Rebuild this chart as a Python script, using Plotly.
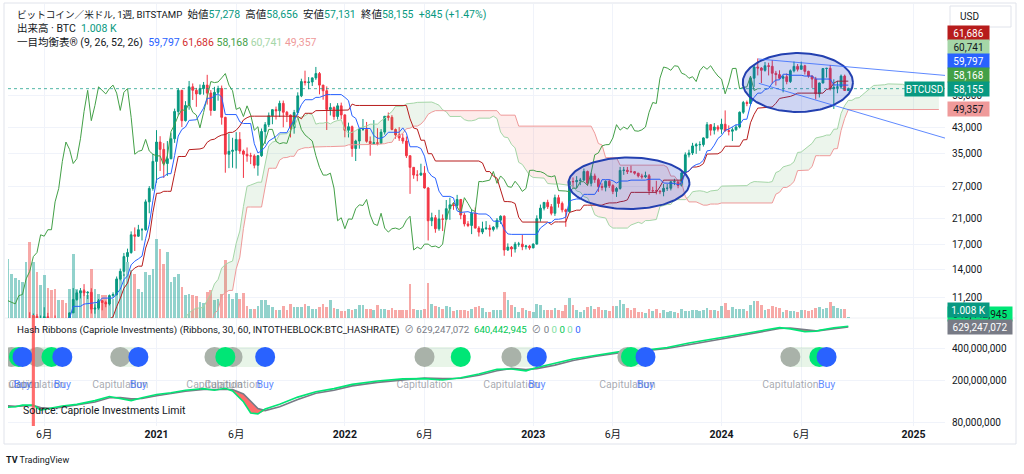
import numpy as np
import pandas as pd
import plotly.graph_objects as go

# ---------------------------------------------------------------- data
LAST_BAR = "2024-09-02"          # weekly bars (Monday open), Bitstamp BTC/USD
first_open = 9630
last_open = 57278

close = [
    # 2019 (from Sep 2)
    10400, 10300, 10000, 8250, 7880, 8300, 8230, 9550, 9200, 8800, 8500, 6900, 7450, 7500, 7100, 7350, 7250, 7750,
    # 2020
    8200, 8700, 8600, 9350, 10000, 9900, 9650, 8550, 8030, 5380, 5830, 5880, 6780, 6900, 7120, 7690, 8900,
    8720, 9680, 8900, 9450, 9650, 9350, 9300, 9000, 9280, 9250, 9180, 9950, 11050, 11650, 11850, 11650, 11700,
    10250, 10330, 10950, 10800, 10680, 11400, 11500, 13000, 13800, 15500, 16000, 18400, 18200, 19150, 19150,
    23850, 26500, 32800,
    # 2021
    38200, 36050, 32250, 33500, 39200, 48600, 57400, 45200, 50950, 59000, 57400, 55800, 58200, 59800, 56150,
    49000, 56500, 58200, 46400, 34700, 35500, 35800, 39000, 35600, 34700, 34250, 34250, 31800, 34300, 41500,
    43800, 47000, 49300, 48850, 51800, 48300, 47250, 42700, 48200, 54950, 61500, 61000, 61300, 63300, 65500,
    59800, 57200, 49400, 50100, 46700, 50800, 47300,
    # 2022
    41900, 43100, 36300, 38500, 42200, 42200, 38400, 37700, 38000, 37800, 41300, 46800, 46400, 42150, 40400,
    39450, 38500, 34300, 31300, 29450, 29450, 29900, 26600, 20550, 21050, 19300, 20850, 20800, 22600, 23300,
    23180, 24300, 21500, 20050, 19800, 21800, 19400, 18800, 19300, 19400, 19200, 19550, 20650, 21300, 16330,
    16700, 16450, 17100, 17100, 16750, 16840, 16600,
    # 2023
    17100, 20900, 22700, 23750, 22950, 21800, 24650, 23550, 22400, 22100, 28000, 27950, 28200, 28300, 30300,
    27600, 29250, 28400, 26900, 26750, 28050, 27100, 25900, 26500, 30550, 30600, 30300, 30250, 29900, 29250,
    29050, 29300, 26050, 26050, 25970, 25840, 26550, 26550, 27950, 27950, 27150, 29950, 34550, 35050, 37050,
    37400, 37450, 39450, 43800, 41950, 43000, 42280,
    # 2024
    43950, 41750, 41600, 42050, 43000, 48300, 52150, 51750, 63150, 68950, 68400, 67200, 69650, 69350, 65650,
    64950, 63100, 63900, 61500, 66950, 69300, 67750, 69650, 66650, 64250, 62700, 55850, 60800, 68150, 68250,
    58100, 58750, 58950, 64200, 57310, 58155,
]
high = [
    # 2019
    10900, 10450, 10350, 10000, 8500, 8800, 8420, 10500, 9900, 9500, 9050, 8500, 7900, 7800, 7650, 7500, 7700, 7850,
    # 2020
    8500, 9200, 8750, 9600, 10150, 10500, 10250, 9950, 9200, 8200, 6900, 6950, 7300, 7450, 7300, 7700, 9450,
    10000, 9900, 9850, 9750, 10400, 9950, 9550, 9750, 9300, 9450, 9320, 9980, 12100, 11900, 12100, 12480, 11800,
    12080, 10650, 11100, 10990, 10950, 11500, 11700, 13250, 14100, 15950, 16500, 18900, 19500, 19900, 19400,
    24300, 27000, 34800,
    # 2021
    41950, 40000, 37850, 38500, 40950, 49700, 58300, 57600, 52700, 61800, 60600, 58500, 60100, 61300, 64850,
    57500, 59000, 59500, 59600, 46600, 40900, 39500, 41300, 41300, 36000, 36600, 35100, 34700, 34500, 42500,
    44700, 48200, 49400, 50500, 52900, 52950, 48800, 47400, 49200, 56500, 62900, 67000, 63700, 63500, 69000,
    66300, 59900, 59200, 51900, 50600, 51900, 52100,
    # 2022
    47500, 44500, 43500, 38900, 42300, 45800, 44750, 39900, 45400, 42600, 42300, 46900, 48200, 47200, 42500,
    42950, 40800, 39900, 34300, 31300, 30600, 32200, 31600, 26800, 21900, 21500, 22400, 21600, 24200, 24650,
    23650, 25200, 24400, 21900, 20500, 22500, 22800, 19700, 20400, 20500, 19900, 19700, 21000, 21450, 21450,
    17200, 16850, 17400, 17400, 18400, 17000, 17000,
    # 2023
    17200, 21450, 23350, 23800, 24250, 23450, 25250, 25200, 23900, 22600, 28400, 28900, 29200, 28800, 31000,
    30500, 30000, 29800, 28800, 27600, 28250, 28450, 27400, 26800, 31400, 31400, 31400, 31800, 30400, 29950,
    29750, 30250, 29700, 26850, 28150, 26100, 27450, 27450, 28000, 28600, 28000, 30400, 35200, 35950, 37950,
    37950, 38400, 39650, 44700, 44000, 44350, 43650,
    # 2024
    45900, 49000, 43550, 42850, 43850, 48600, 52800, 52950, 64000, 70100, 73794, 68900, 71700, 71300, 72750,
    66900, 67200, 64700, 65500, 67650, 71950, 70600, 71950, 70200, 66950, 64500, 63800, 61000, 68350, 68500,
    70017, 62600, 61800, 65000, 64950, 58656,
]
low = [
    # 2019
    9600, 9900, 9600, 7800, 7750, 7800, 7900, 7300, 8950, 8700, 8400, 6800, 6500, 7100, 7050, 6400, 7100, 6900,
    # 2020
    7600, 8100, 8250, 8550, 9150, 9700, 9300, 8450, 7900, 3850, 4450, 5700, 5850, 6750, 6500, 6800, 7650,
    8600, 8200, 8800, 8650, 9300, 8950, 9200, 8850, 8950, 9100, 9050, 9150, 9950, 10950, 11150, 11350, 11100,
    9900, 9880, 10200, 10150, 10400, 10550, 11200, 11400, 12850, 13300, 14850, 15850, 16200, 18100, 17600,
    19000, 21800, 26050,
    # 2021
    27700, 30400, 28800, 29250, 33350, 37950, 47050, 43000, 44900, 49250, 53200, 50400, 55450, 55450, 51300,
    47000, 48800, 52900, 43800, 30000, 31100, 31200, 31000, 34800, 28800, 32700, 32100, 31050, 29300, 34000,
    37600, 43000, 43950, 45600, 46500, 42900, 44700, 39600, 40800, 47150, 54400, 59600, 57900, 59400, 62300,
    55600, 53300, 42000, 47100, 45500, 45600, 45700,
    # 2022
    39650, 39600, 34000, 32900, 36250, 41700, 38000, 34300, 37450, 37200, 37600, 40500, 45200, 41900, 39200,
    38550, 37700, 33700, 25400, 28600, 28050, 29300, 26500, 17600, 19700, 18700, 19000, 18950, 20750, 20700,
    22400, 22650, 20800, 19650, 19550, 18500, 19350, 18150, 18500, 19150, 18150, 18900, 19200, 20050, 15600,
    16200, 15480, 16000, 16750, 16300, 16400, 16350,
    # 2023
    16550, 17050, 20400, 22300, 22550, 21450, 21350, 22800, 21950, 19600, 21900, 26600, 26550, 27200, 28200,
    27100, 26950, 27700, 25800, 26100, 25900, 26600, 25350, 24800, 26250, 29500, 29700, 29950, 29550, 28900,
    28600, 28750, 25200, 25750, 25300, 25350, 24920, 26000, 26100, 27200, 26550, 26900, 29850, 33850, 34500,
    34800, 35650, 36850, 39400, 40200, 40550, 41500,
    # 2024
    40750, 41500, 40250, 38500, 41800, 42550, 47700, 50650, 50900, 59000, 64550, 60800, 66500, 64550, 60600,
    59600, 62800, 56500, 60200, 60800, 66100, 66600, 67500, 65000, 63400, 58500, 53500, 54250, 60650, 63450,
    57350, 49577, 56100, 58000, 57200, 57131,
]
# weekly volume, thousand BTC
volume = [
    45, 40, 38, 70, 45, 42, 38, 60, 45, 40, 38, 55, 42, 38, 36, 40, 35, 33, 30, 40, 45, 35, 42, 48, 45, 42, 55, 50, 90,
    59, 44, 40, 38, 36, 56, 76, 56, 46, 33, 43, 30, 28, 29, 18, 18, 15, 29, 64, 29, 26, 29, 23, 49, 29, 24, 23, 23,
    19, 19, 38, 43, 44, 56, 48, 44, 29, 26, 46, 43, 49, 79, 69, 54, 66, 36, 41, 44, 31, 23, 24, 23, 22, 16, 15, 26,
    28, 18, 19,
    24, 58, 24, 19, 25, 19, 25, 12, 9, 9, 12, 18, 18, 13, 11, 8, 8, 12, 8, 14, 11, 11, 11, 14, 12, 9, 9, 11, 14, 11,
    18, 10, 9, 7, 7, 9, 8, 9, 13, 13, 9, 9, 8, 13, 9, 9, 8, 10, 8, 8, 8, 8, 34, 9, 8, 8, 9, 35,
    14, 12, 11, 9, 12, 11, 7, 8, 8, 8, 7, 9, 11, 12, 10, 6, 6, 8, 8, 8, 26, 18, 13, 11, 6, 10, 8, 7, 6, 14,
    13, 8, 8, 8, 10, 8, 7, 13, 20, 13, 8, 6, 8, 11, 12, 9, 11, 8, 8, 7, 12, 12, 18, 14, 10, 8, 10,
    6, 6, 5, 9, 7, 9, 5, 8, 6, 7, 6, 5, 9, 7, 7, 8, 8, 7, 8, 10, 8, 8, 7, 12, 15, 8, 11, 9, 9, 9,
    7, 13, 17, 17, 13, 8, 9, 12, 11, 10, 6, 8, 7, 7, 6, 8, 8, 7, 8, 10, 11, 9, 10, 16, 12, 10, 9, 9, 1.008,
]

# Hash Ribbons: 30d (fast) / 60d (slow) hash-rate averages, EH/s
hr_dates = ["2020-03-02", "2020-03-23", "2020-04-06", "2020-04-20", "2020-05-11", "2020-05-25", "2020-06-15",
            "2020-07-06", "2020-08-03", "2020-09-07", "2020-10-05", "2020-10-26", "2020-11-16", "2020-12-07",
            "2021-01-04", "2021-02-01", "2021-03-01", "2021-04-05", "2021-04-26", "2021-05-17", "2021-05-31",
            "2021-06-21", "2021-07-05", "2021-07-19", "2021-08-02", "2021-08-30", "2021-10-04", "2021-11-08",
            "2021-12-13", "2022-01-17", "2022-03-07", "2022-04-25", "2022-06-06", "2022-07-11", "2022-08-15",
            "2022-09-19", "2022-10-24", "2022-11-21", "2022-12-19", "2023-01-09", "2023-02-13", "2023-03-20",
            "2023-05-01", "2023-06-19", "2023-07-03", "2023-07-10", "2023-08-07", "2023-09-18", "2023-10-30",
            "2023-12-11", "2024-01-15", "2024-02-19", "2024-03-25", "2024-04-22", "2024-05-13", "2024-06-10",
            "2024-07-01", "2024-07-08", "2024-08-05", "2024-09-02"]
hr_fast = [120, 111, 112, 116, 116, 104, 109, 114, 118, 128, 140, 134, 128, 136,
           146, 152, 160, 166, 160, 167, 158, 125, 98, 96, 107, 118, 138, 155, 166,
           182, 196, 205, 206, 200, 210, 228, 252, 254, 244,
           262, 285, 315, 340, 370, 364, 368, 385, 405, 445, 480,
           510, 550, 590, 622, 605, 570, 575, 586, 620, 640.442945]
hr_slow = [116, 114, 113, 114, 115, 110, 108, 111, 116, 124, 136, 137, 133, 134,
           142, 149, 157, 163, 164, 165, 163, 148, 125, 108, 103, 112, 131, 150, 160,
           176, 190, 200, 209, 206, 208, 222, 244, 257, 251,
           256, 276, 305, 333, 362, 368, 367, 378, 396, 432, 468,
           500, 535, 575, 610, 617, 592, 580, 583, 605, 629.247072]

capitulation_dates = ["2020-03-30", "2020-05-18", "2020-10-26", "2021-04-26", "2021-05-31",
                      "2022-06-06", "2022-11-21", "2023-07-03", "2024-05-13"]
recovery_dates = ["2020-04-13", "2020-06-15", "2021-05-17", "2022-08-15", "2023-07-10", "2024-07-08"]
buy_dates = ["2020-04-20", "2020-07-06", "2020-11-30", "2021-08-02", "2023-01-09", "2023-08-07", "2024-07-22"]
signal_bands = [("2020-03-30", "2020-04-20"), ("2020-05-18", "2020-07-06"), ("2020-10-26", "2020-11-30"),
                ("2021-04-26", "2021-08-02"), ("2022-06-06", "2022-08-15"), ("2022-11-21", "2023-01-09"),
                ("2023-07-03", "2023-08-07"), ("2024-05-13", "2024-07-22")]
highlight_dates = ["2020-05-11"]

# values shown in the legends / price-scale labels
ichimoku_values = [59797, 61686, 58168, 60741, 49357]      # conversion, base, lagging, lead 1, lead 2
hash_values = [629247072, 640442945]                       # slow, fast
price_ticks = [11200, 14000, 17000, 21000, 27000, 35000, 43000, 55000]
hash_ticks = [80000000, 200000000, 400000000]
x_ticks = ["2020-06-01", "2021-01-04", "2021-06-07", "2022-01-03", "2022-06-06", "2023-01-02",
           "2023-06-05", "2024-01-01", "2024-06-03", "2025-01-06"]
x_ticktext = ["6月", "<b>2021</b>", "6月", "<b>2022</b>", "6月", "<b>2023</b>", "6月", "<b>2024</b>", "6月", "<b>2025</b>"]

# user drawings: ellipses (time, price) and trend lines
ellipses = [("2023-03-11", "2023-10-31", 33820, 22540), ("2024-02-11", "2024-09-11", 76960, 48390)]
trend_lines = [(("2024-03-12", 73470), ("2025-03-08", 64550)), (("2024-03-13", 60660), ("2025-03-08", 39400))]

# ---------------------------------------------------------------- style
FONT = "Roboto, 'Noto Sans CJK JP', 'DejaVu Sans', sans-serif"
TXT = "#131722"
UP, DN = "#089981", "#F23645"
VOL_UP, VOL_DN = "rgba(38,166,154,0.5)", "rgba(239,83,80,0.5)"
GRID = "#f0f3fa"
C_TENKAN, C_KIJUN, C_LAG, C_LEAD1, C_LEAD2 = "#2962FF", "#B71C1C", "#43A047", "#A5D6A7", "#EF9A9A"
CLOUD_UP, CLOUD_DN = "rgba(67,160,71,0.10)", "rgba(244,67,54,0.10)"

PLOT_L, PLOT_R, PLOT_T, PLOT_B, SPLIT = 8, 945, 4, 426, 318
PRICE_RANGE = [3.98032, 5.05409]
HASH_RANGE = [7.86828, 8.88428]
VOL_RANGE = [0, SPLIT - PLOT_T]
PX_PER_WEEK = 3.622
SIGNAL_LEVEL, LABEL_LEVEL = 3.3e8, 1.78e8

split_frac = (PLOT_B - SPLIT) / (PLOT_B - PLOT_T)


def py2paper(py):
    return (PLOT_B - py) / (PLOT_B - PLOT_T)


def px2paper(px):
    return (px - PLOT_L) / (PLOT_R - PLOT_L)


def price_px(v):
    return PLOT_T + (PRICE_RANGE[1] - np.log10(v)) / (PRICE_RANGE[1] - PRICE_RANGE[0]) * (SPLIT - PLOT_T)


def hash_px(v):
    return SPLIT + (HASH_RANGE[1] - np.log10(v)) / (HASH_RANGE[1] - HASH_RANGE[0]) * (PLOT_B - SPLIT)


def fmt(v):
    return f"{int(round(v)):,}"


# ---------------------------------------------------------------- derived series
n = len(close)
dates = pd.date_range(end=LAST_BAR, periods=n, freq="7D")
opens = [first_open] + close[:-1]
opens[-1] = last_open
high = [max(h, o, c) for h, o, c in zip(high, opens, close)]
low = [min(l, o, c) for l, o, c in zip(low, opens, close)]

H, L, C = pd.Series(high, dtype=float), pd.Series(low, dtype=float), pd.Series(close, dtype=float)


def donchian(k):
    return (H.rolling(k).max() + L.rolling(k).min()) / 2


tenkan = donchian(9)
kijun = donchian(26)
spanA = (tenkan + kijun) / 2
spanB = donchian(52)
disp = 26 - 1
all_dates = dates.append(pd.date_range(dates[-1] + pd.Timedelta(days=7), periods=disp, freq="7D"))
lead_x = all_dates[disp:disp + n]

x_start = pd.Timestamp("2020-03-23")
x_end = x_start + pd.Timedelta(days=(PLOT_R - PLOT_L) / PX_PER_WEEK * 7)

fig = go.Figure()

# volume (base axis, drawn beneath price)
vol_colors = [VOL_UP if c >= o else VOL_DN for o, c in zip(opens, close)]
fig.add_trace(go.Bar(x=dates, y=volume, marker=dict(color=vol_colors, line=dict(width=0)),
                     width=7 * 86400000 * 0.74, xaxis="x", yaxis="y", hoverinfo="skip"))

# cloud
valid = (spanA.notna() & spanB.notna()).values
lx = lead_x[valid]
A = spanA.values[valid]
B = spanB.values[valid]
for upper, col in ((np.maximum(A, B), CLOUD_UP), (np.minimum(A, B), CLOUD_DN)):
    fig.add_trace(go.Scatter(x=lx, y=B, mode="lines", line=dict(width=0, color="rgba(0,0,0,0)"),
                             yaxis="y2", hoverinfo="skip"))
    fig.add_trace(go.Scatter(x=lx, y=upper, mode="lines", line=dict(width=0, color="rgba(0,0,0,0)"),
                             fill="tonexty", fillcolor=col, yaxis="y2", hoverinfo="skip"))
fig.add_trace(go.Scatter(x=lead_x, y=spanA, mode="lines", line=dict(color=C_LEAD1, width=1), yaxis="y2"))
fig.add_trace(go.Scatter(x=lead_x, y=spanB, mode="lines", line=dict(color=C_LEAD2, width=1), yaxis="y2"))
# lagging span
fig.add_trace(go.Scatter(x=dates[:n - disp], y=C.values[disp:], mode="lines",
                         line=dict(color=C_LAG, width=1), yaxis="y2"))
# current price line
fig.add_trace(go.Scatter(x=[x_start, x_end], y=[close[-1], close[-1]], mode="lines",
                         line=dict(color="rgba(8,153,129,0.7)", width=1, dash="dot"), yaxis="y2"))

# candles
fig.add_trace(go.Candlestick(x=dates, open=opens, high=high, low=low, close=close, yaxis="y2",
                             increasing=dict(line=dict(color=UP, width=1), fillcolor=UP),
                             decreasing=dict(line=dict(color=DN, width=1), fillcolor=DN),
                             whiskerwidth=0, hoverinfo="skip"))
# conversion / base lines
fig.add_trace(go.Scatter(x=dates, y=kijun, mode="lines", line=dict(color=C_KIJUN, width=1), yaxis="y2"))
fig.add_trace(go.Scatter(x=dates, y=tenkan, mode="lines", line=dict(color=C_TENKAN, width=1), yaxis="y2"))

# drawings: ellipses and trend lines
for t0, t1, ptop, pbot in ellipses:
    t0, t1 = pd.Timestamp(t0), pd.Timestamp(t1)
    xc, rx = t0 + (t1 - t0) / 2, (t1 - t0) / 2
    lc = (np.log10(ptop) + np.log10(pbot)) / 2
    rl = (np.log10(ptop) - np.log10(pbot)) / 2
    th = np.linspace(0, 2 * np.pi, 181)
    fig.add_trace(go.Scatter(x=[xc + rx * np.cos(a) for a in th], y=10 ** (lc + rl * np.sin(th)),
                             mode="lines", fill="toself", fillcolor="rgba(33,66,200,0.22)",
                             line=dict(color="#2340b0", width=2), yaxis="y2", hoverinfo="skip"))
for (ta, pa), (tb, pb) in trend_lines:
    fig.add_trace(go.Scatter(x=[ta, tb], y=[pa, pb], mode="lines",
                             line=dict(color="rgba(41,98,255,0.75)", width=1), yaxis="y2"))

# ---------------------------------------------------------------- hash ribbons pane
hx = pd.to_datetime(hr_dates)
fast = np.array(hr_fast) * 1e6
slow = np.array(hr_slow) * 1e6
fig.add_trace(go.Scatter(x=hx, y=slow, mode="lines", line=dict(width=0, color="rgba(0,0,0,0)"), yaxis="y3"))
fig.add_trace(go.Scatter(x=hx, y=np.minimum(fast, slow), mode="lines", line=dict(width=0, color="rgba(0,0,0,0)"),
                         fill="tonexty", fillcolor="rgba(255,82,82,0.85)", yaxis="y3"))
fig.add_trace(go.Scatter(x=hx, y=slow, mode="lines", line=dict(color="#787B86", width=1.6), yaxis="y3"))
fig.add_trace(go.Scatter(x=hx, y=fast, mode="lines", line=dict(color="#00E676", width=1.6), yaxis="y3"))

for a, b in signal_bands:
    fig.add_trace(go.Scatter(x=[a, b], y=[SIGNAL_LEVEL, SIGNAL_LEVEL], mode="lines",
                             line=dict(color="rgba(76,175,80,0.13)", width=20), yaxis="y3"))
for ds, col in ((capitulation_dates, "#a9b2a9"), (recovery_dates, "#00E676"), (buy_dates, "#2962FF")):
    fig.add_trace(go.Scatter(x=ds, y=[SIGNAL_LEVEL] * len(ds), mode="markers",
                             marker=dict(size=20, color=col, line=dict(width=0)), yaxis="y3"))
fig.add_trace(go.Scatter(x=capitulation_dates, y=[LABEL_LEVEL] * len(capitulation_dates), mode="text",
                         text=["Capitulation"] * len(capitulation_dates),
                         textfont=dict(size=10.5, color="rgba(120,123,134,0.65)", family=FONT), yaxis="y3"))
fig.add_trace(go.Scatter(x=buy_dates, y=[LABEL_LEVEL] * len(buy_dates), mode="text",
                         text=["Buy"] * len(buy_dates),
                         textfont=dict(size=10.5, color="rgba(41,98,255,0.75)", family=FONT), yaxis="y3"))

# ---------------------------------------------------------------- shapes
shapes = []
for d in highlight_dates:
    d = pd.Timestamp(d)
    shapes.append(dict(type="rect", xref="x", yref="paper", x0=d - pd.Timedelta(days=3), x1=d + pd.Timedelta(days=3),
                       y0=0, y1=py2paper(315), fillcolor="rgba(255,82,82,0.85)", line=dict(width=0), layer="above"))
# frame, pane separator, currency button
shapes.append(dict(type="rect", xref="paper", yref="paper", x0=px2paper(4), x1=px2paper(1016),
                   y0=py2paper(444), y1=py2paper(3), line=dict(color="#e0e3eb", width=1), layer="below"))
shapes.append(dict(type="line", xref="paper", yref="paper", x0=px2paper(4), x1=px2paper(1016),
                   y0=py2paper(SPLIT), y1=py2paper(SPLIT), line=dict(color="#eef0f4", width=1), layer="below"))
shapes.append(dict(type="rect", xref="paper", yref="paper", x0=px2paper(950), x1=px2paper(1011),
                   y0=py2paper(27), y1=py2paper(6), line=dict(color="#e0e3eb", width=1), fillcolor="white",
                   layer="above"))

# ---------------------------------------------------------------- annotations
ann = []


def span(t, c, size=None):
    st = f"color:{c}" + (f";font-size:{size}px" if size else "")
    return f"<span style='{st}'>{t}</span>"


G = "\u00a0\u00a0"
chg = close[-1] - close[-2]
pct = chg / close[-2] * 100
line1 = (span("ビットコイン／米ドル, 1週, BITSTAMP", TXT, 9.6) + G +
         "始値" + span(fmt(opens[-1]), UP) + G + "高値" + span(fmt(high[-1]), UP) + G +
         "安値" + span(fmt(low[-1]), UP) + G + "終値" + span(fmt(close[-1]), UP) + G +
         span(f"+{fmt(chg)} (+{pct:.2f}%)", UP))
line2 = "出来高 · BTC" + G + span(f"{volume[-1]:.3f} K", UP)
ich_cols = [C_TENKAN, "#d32f2f", C_LAG, C_LEAD1, C_LEAD2]
line3 = "一目均衡表® (9, 26, 52, 26)" + G + "\u00a0".join(span(fmt(v), c) for v, c in zip(ichimoku_values, ich_cols))
for i, t in enumerate((line1, line2, line3)):
    ann.append(dict(xref="paper", yref="paper", x=px2paper(15), y=py2paper(15 + 13.5 * i), xanchor="left",
                    yanchor="middle", text=t, showarrow=False, font=dict(size=10.5, color=TXT, family=FONT)))

hash_line = ("Hash Ribbons (Capriole Investments) (Ribbons, 30, 60, INTOTHEBLOCK:BTC_HASHRATE)" + G +
             span("⊘", "#787B86") + "\u00a0" + span(fmt(hash_values[0]), "#787B86") + G +
             span(fmt(hash_values[1]), "#00c853") + G + span("⊘", "#787B86") + "\u00a0" +
             "\u00a0".join(span("0", c) for c in ["#787B86", "#7ee0a0", "#00c853", "#7ee0a0", "#2962FF"]))
ann.append(dict(xref="paper", yref="paper", x=px2paper(15), y=py2paper(330), xanchor="left", yanchor="middle",
                text=hash_line, showarrow=False, font=dict(size=9.7, color=TXT, family=FONT)))
ann.append(dict(xref="paper", yref="paper", x=px2paper(21), y=py2paper(410), xanchor="left", yanchor="middle",
                text="Source: Capriole Investments Limit", showarrow=False, font=dict(size=10.5, color=TXT, family=FONT)))


def stack(pxs, h):
    order = sorted(range(len(pxs)), key=lambda k: -pxs[k])
    out, prev = [0] * len(pxs), None
    for k in order:
        p = pxs[k] if prev is None else min(pxs[k], prev - h)
        out[k], prev = p, p
    return out


price_labels = [(ichimoku_values[1], C_KIJUN, "white"), (ichimoku_values[3], C_LEAD1, TXT),
                (ichimoku_values[0], C_TENKAN, "white"), (ichimoku_values[2], C_LAG, "white"),
                (close[-1], UP, "white"), (ichimoku_values[4], C_LEAD2, TXT)]
ppx = stack([price_px(v) for v, _, _ in price_labels], 14)
for (v, bg, fg), p in zip(price_labels, ppx):
    ann.append(dict(xref="paper", yref="paper", x=1, xshift=2, y=py2paper(p), xanchor="left", yanchor="middle",
                    text=fmt(v), showarrow=False, bgcolor=bg, width=39, height=12, borderpad=1,
                    font=dict(size=10, color=fg, family=FONT)))
ann.append(dict(xref="paper", yref="y2", x=1, y=np.log10(close[-1]), xanchor="right", yanchor="middle",
                text="BTCUSD", showarrow=False, bgcolor=UP, width=37, height=12, borderpad=1,
                font=dict(size=10, color="white", family=FONT)))

hash_labels = [(hash_values[1], "#00E676", TXT), (hash_values[0], "#787B86", "white")]
hpx = stack([hash_px(v) for v, _, _ in hash_labels], 13)
for (v, bg, fg), p in zip(hash_labels, hpx):
    ann.append(dict(xref="paper", yref="paper", x=1, xshift=2, y=py2paper(p), xanchor="left", yanchor="middle",
                    text=fmt(v), showarrow=False, bgcolor=bg, width=62, height=12, borderpad=1,
                    font=dict(size=10, color=fg, family=FONT)))
vol_px = min(SPLIT - volume[-1] * (SPLIT - PLOT_T) / VOL_RANGE[1], SPLIT - 8)
ann.append(dict(xref="paper", yref="paper", x=1, xshift=2, y=py2paper(vol_px), xanchor="left", yanchor="middle",
                text=f"{volume[-1]:.3f} K", showarrow=False, bgcolor=UP, width=39, height=12, borderpad=1,
                font=dict(size=10, color="white", family=FONT)))
ann.append(dict(xref="paper", yref="paper", x=px2paper(958), y=py2paper(16.5), xanchor="left", yanchor="middle",
                text="USD", showarrow=False, font=dict(size=10, color=TXT, family=FONT)))
ann.append(dict(xref="paper", yref="paper", x=px2paper(4), y=py2paper(460), xanchor="left", yanchor="middle",
                text="<b>TV</b> TradingView", showarrow=False, font=dict(size=9, color=TXT, family=FONT)))

# ---------------------------------------------------------------- layout
fig.update_layout(
    width=1024, height=474, autosize=False,
    margin=dict(l=PLOT_L, r=1024 - PLOT_R, t=PLOT_T, b=474 - PLOT_B),
    paper_bgcolor="white", plot_bgcolor="white", showlegend=False,
    font=dict(family=FONT, size=10, color=TXT),
    xaxis=dict(type="date", range=[x_start, x_end], anchor="y3", showgrid=True, gridcolor=GRID, gridwidth=1,
               tickvals=x_ticks, ticktext=x_ticktext, ticks="", zeroline=False, showline=False,
               rangeslider=dict(visible=False), tickfont=dict(size=10.5, color=TXT)),
    yaxis=dict(domain=[split_frac, 1], range=VOL_RANGE, visible=False, showgrid=False, fixedrange=True),
    yaxis2=dict(overlaying="y", side="right", anchor="x", type="log", range=PRICE_RANGE,
                tickvals=price_ticks, ticktext=[fmt(v) for v in price_ticks], showgrid=True, gridcolor=GRID,
                zeroline=False, showline=False, ticks="", ticklabelstandoff=6, tickfont=dict(size=10, color=TXT)),
    yaxis3=dict(domain=[0, split_frac], side="right", anchor="x", type="log", range=HASH_RANGE,
                tickvals=hash_ticks, ticktext=[fmt(v) for v in hash_ticks], showgrid=True, gridcolor=GRID,
                zeroline=False, showline=False, ticks="", ticklabelstandoff=6, tickfont=dict(size=10, color=TXT)),
    bargap=0, shapes=shapes, annotations=ann,
)

fig.write_html("out.html")
